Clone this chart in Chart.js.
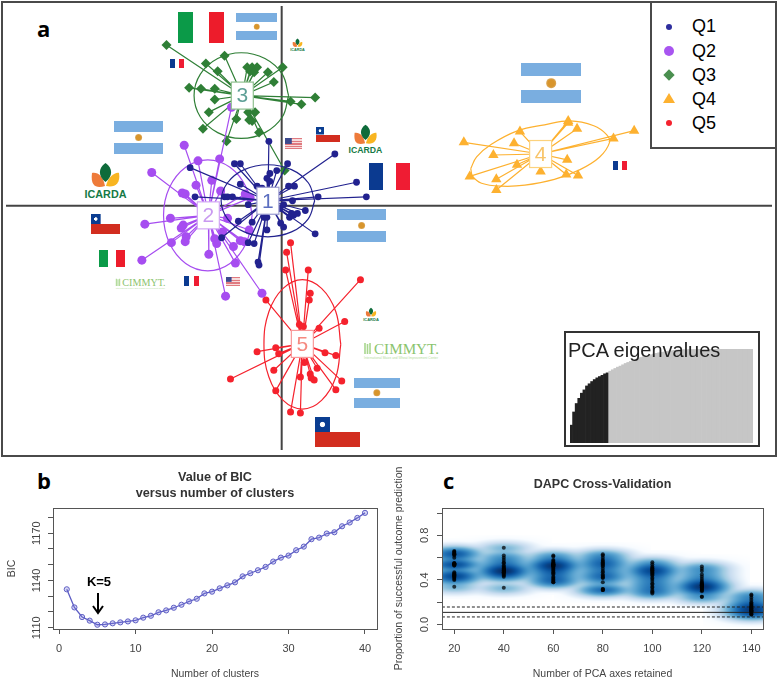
<!DOCTYPE html>
<html>
<head>
<meta charset="utf-8">
<title>DAPC clusters</title>
<script src="https://cdn.jsdelivr.net/npm/chart.js@4"></script>
<style>
    html, body { margin: 0; padding: 0; background: #fff; }
    #page { position: relative; width: 778px; height: 680px; overflow: hidden; font-family: "Liberation Sans", Arial, sans-serif; }
    #page canvas { position: absolute; }
    .abs { position: absolute; }
    .panelLetter { position: absolute; font: bold 22px "Open Sans", sans-serif; color: #000; line-height: 24px; }

    /* panel a frame and legend */
    #frameA { position: absolute; left: 1px; top: 1px; width: 772px; height: 452px; border: 2px solid #4a4a4a; }
    #legendBox { position: absolute; left: 650px; top: 1px; width: 123px; height: 144px; border: 2px solid #4a4a4a; background: #fff; }
    .legText { position: absolute; left: 692px; font-size: 18px; line-height: 22px; color: #000; }
    .mark { position: absolute; }

    /* flags */
    .flag { position: absolute; }
    .ar { background: linear-gradient(#7aaee0 0 33.3%, #fff 33.3% 66.6%, #7aaee0 66.6%); }
    .ar::after { content: ""; position: absolute; left: 50%; top: 50%; width: 16%; aspect-ratio: 1; transform: translate(-50%, -50%); border-radius: 50%; background: radial-gradient(#d8952c 45%, #dcbb8c 100%); }
    .it { background: linear-gradient(90deg, #0b9a48 0 33%, #fff 33% 67%, #ed1c2b 67%); }
    .fr { background: linear-gradient(90deg, #0b3a90 0 33%, #fff 33% 67%, #ef1c33 67%); }
    .cl { background:
        radial-gradient(circle at 16.6% 25%, #fff 0 5%, transparent 7%),
        linear-gradient(#d22d1f, #d22d1f) left bottom / 100% 50% no-repeat,
        linear-gradient(#0a3d91, #0a3d91) left top / 33.3% 50% no-repeat; }
    .us { background:
        linear-gradient(#3c4a8e, #3c4a8e) left top / 40% 54% no-repeat,
        repeating-linear-gradient(#e07a80 0 1.4px, #f7dcdc 1.4px 2.6px); }
    .logo { position: absolute; overflow: visible; }

    #insetBox { position: absolute; left: 564px; top: 331px; width: 192px; height: 112px; border: 2px solid #333; background: #fff; }
    #insetTitle { position: absolute; left: 568px; top: 339px; font-size: 20px; line-height: 22px; color: #222; z-index: 3; white-space: nowrap; }
    #kLabel { position: absolute; left: 70px; top: 574px; width: 58px; text-align: center; font: bold 13px "Liberation Sans", Arial, sans-serif; color: #000; z-index: 3; }
</style>
</head>
<body>
<div id="page">
    <svg width="0" height="0" style="position:absolute">
        <symbol id="icarda" viewBox="0 0 43 36" overflow="visible">
            <path d="M8 11 C14 10 19 14 21 24 C14 26 6 26 8 11Z" fill="#ee7b3a"/>
            <path d="M35 11 C31 10 24 15 22 24 C30 26 37 22 35 11Z" fill="#f8b521"/>
            <path d="M21.5 1 C14 6 14 14 21.5 20 C29 14 29 6 21.5 1Z" fill="#0e6b3a"/>
            <text x="21.5" y="35.5" text-anchor="middle" font-family="Liberation Sans" font-weight="bold" font-size="10.5" textLength="42" lengthAdjust="spacingAndGlyphs" fill="#157a46">ICARDA</text>
        </symbol>
        <symbol id="cimmyt" viewBox="0 0 76 18" overflow="visible">
            <path d="M1 1V12M3.5 2V12M6 1V12" stroke="#a8d68e" stroke-width="1.6" fill="none"/>
            <text x="10" y="12" font-family="Liberation Serif" font-size="14" textLength="65" lengthAdjust="spacingAndGlyphs" fill="#8bc46e">CIMMYT.</text>
            <text x="0" y="16.6" font-family="Liberation Sans" font-size="2.7" textLength="74" lengthAdjust="spacingAndGlyphs" fill="#b4dca0">International Maize and Wheat Improvement Center</text>
        </symbol>
    </svg>

    <div id="frameA"></div>
    <div class="panelLetter" style="left:37px;top:16px">a</div>
    <div class="panelLetter" style="left:37px;top:468px">b</div>
    <div class="panelLetter" style="left:443px;top:468px">c</div>

    <!-- flags and logos round the clusters -->
    <div class="flag it" style="left:178px;top:12px;width:46px;height:31px"></div>
    <div class="flag ar" style="left:236px;top:13px;width:41px;height:27px"></div>
    <div class="flag fr" style="left:170px;top:59px;width:14px;height:9px"></div>
    <svg class="logo" style="left:290px;top:38px" width="15" height="13"><use href="#icarda"/></svg>
    <div class="flag ar" style="left:114px;top:121px;width:49px;height:33px"></div>
    <svg class="logo" style="left:84px;top:162px" width="43" height="36"><use href="#icarda"/></svg>
    <div class="flag us" style="left:285px;top:138px;width:17px;height:11px"></div>
    <div class="flag cl" style="left:316px;top:127px;width:24px;height:15px"></div>
    <svg class="logo" style="left:348px;top:124px" width="35" height="29"><use href="#icarda"/></svg>
    <div class="flag fr" style="left:369px;top:163px;width:41px;height:27px"></div>
    <div class="flag ar" style="left:337px;top:209px;width:49px;height:33px"></div>
    <div class="flag cl" style="left:91px;top:214px;width:29px;height:20px"></div>
    <div class="flag it" style="left:99px;top:250px;width:26px;height:17px"></div>
    <svg class="logo" style="left:115px;top:278px" width="52" height="12"><use href="#cimmyt"/></svg>
    <div class="flag fr" style="left:184px;top:276px;width:15px;height:10px"></div>
    <div class="flag us" style="left:226px;top:277px;width:14px;height:9px"></div>
    <svg class="logo" style="left:363px;top:307px" width="16" height="14"><use href="#icarda"/></svg>
    <svg class="logo" style="left:364px;top:342px" width="76" height="18"><use href="#cimmyt"/></svg>
    <div class="flag ar" style="left:354px;top:378px;width:46px;height:30px"></div>
    <div class="flag cl" style="left:315px;top:417px;width:45px;height:30px"></div>
    <div class="flag ar" style="left:521px;top:63px;width:60px;height:40px"></div>
    <div class="flag fr" style="left:613px;top:161px;width:14px;height:9px"></div>

    <canvas id="scatterChart" width="778" height="458" style="left:0;top:0"></canvas>

    <!-- legend of panel a -->
    <div id="legendBox"></div>
    <div class="mark" style="left:666px;top:24px;width:6px;height:6px;border-radius:50%;background:#2e2e9e"></div>
    <div class="mark" style="left:664px;top:46px;width:10px;height:10px;border-radius:50%;background:#a855f0"></div>
    <div class="mark" style="left:664px;top:70px;width:10px;height:10px;transform:rotate(45deg) scale(.8);background:#4a8f4f"></div>
    <div class="mark" style="left:663px;top:93px;width:12px;height:10px;clip-path:polygon(50% 0,100% 100%,0 100%);background:#fdb130"></div>
    <div class="mark" style="left:666px;top:120px;width:6px;height:6px;border-radius:50%;background:#f4222e"></div>
    <div class="legText" style="top:15px">Q1</div>
    <div class="legText" style="top:40px">Q2</div>
    <div class="legText" style="top:64px">Q3</div>
    <div class="legText" style="top:88px">Q4</div>
    <div class="legText" style="top:112px">Q5</div>

    <!-- inset -->
    <div id="insetBox"></div>
    <canvas id="eigenChart" width="183" height="94" style="left:570px;top:349px;z-index:2"></canvas>
    <div id="insetTitle">PCA eigenvalues</div>

    <canvas id="bicChart" width="390" height="215" style="left:0;top:465px"></canvas>
    <canvas id="dapcChart" width="388" height="215" style="left:390px;top:465px"></canvas>

    <div id="kLabel">K=5</div>
    <svg class="abs" style="left:88px;top:590px;z-index:3" width="20" height="26">
        <path d="M10 3V22M5 16L10 23L15 16" stroke="#000" stroke-width="2" fill="none"/>
    </svg>
</div>

<script>
    // Values. Panel a uses picture units, axes cross at 280 / 205
    const axisCrossX = 280;
    const axisCrossY = 205;

    const q1Center = [266, 200];
    const q1X = [267, 232, 238, 286, 334, 356, 366, 317, 304, 314, 256, 257, 252, 246, 265, 279, 282, 288, 292, 296, 290, 291, 287, 293, 275, 268, 265, 268, 238, 222, 225, 187, 192, 230, 236, 219, 246, 250, 282, 278, 255, 260, 262, 265];
    const q1Y = [139, 162, 162, 162, 152, 181, 196, 196, 210, 234, 263, 266, 244, 243, 230, 223, 227, 217, 215, 213, 213, 200, 185, 185, 169, 172, 177, 180, 183, 196, 196, 166, 196, 196, 221, 238, 204, 222, 204, 208, 185, 187, 217, 217];
    const q1EllipseX = [313.5, 307, 290, 266, 242, 225, 218.5, 225, 242, 266, 290, 307];
    const q1EllipseY = [200, 181.5, 168, 163, 168, 181.5, 200, 218.5, 232, 237, 232, 218.5];

    const q2Center = [205.5, 215];
    const q2X = [181, 217, 229, 195, 148, 209, 193, 179, 182, 218, 141, 167, 180, 178, 183, 182, 168, 138, 206, 212, 214, 220, 231, 233, 223, 260, 238, 242, 247, 225, 243, 248];
    const q2Y = [143, 157, 104, 159, 171, 179, 184, 192, 193, 190, 224, 218, 225, 228, 237, 242, 243, 261, 255, 239, 244, 232, 247, 264, 298, 295, 241, 242, 230, 218, 193, 197];
    const q2EllipseX = [250, 244, 227.5, 205, 182.5, 166, 160, 166, 182.5, 205, 227.5, 244];
    const q2EllipseY = [215, 186.5, 165.6, 158, 165.6, 186.5, 215, 243.5, 264.4, 272, 264.4, 243.5];

    const q3Center = [240, 92];
    const q3X = [163, 222, 203, 215, 245, 250, 255, 248, 252, 281, 266, 272, 186, 198, 212, 212, 314, 289, 300, 206, 200, 224, 234, 246, 253, 247, 250, 257, 283];
    const q3Y = [40, 51, 59, 67, 63, 63, 63, 67, 68, 63, 68, 78, 84, 85, 85, 96, 94, 98, 101, 109, 126, 139, 116, 109, 109, 117, 118, 130, 169];
    const q3EllipseX = [287, 280.6, 263, 239, 215, 197.4, 191, 197.4, 215, 239, 263, 280.6];
    const q3EllipseY = [92, 70, 54, 48, 54, 70, 92, 114, 130, 136, 130, 114];

    const q4Center = [543, 152];
    const q4X = [465, 522, 516, 495, 571, 571, 580, 617, 638, 570, 543, 569, 581, 519, 498, 471, 498];
    const q4Y = [140, 129, 141, 153, 118, 120, 126, 136, 128, 158, 170, 173, 174, 163, 178, 175, 189];
    const q4EllipseX = [472, 478, 493, 520, 547, 573, 597, 610, 613, 603, 583, 557, 527, 503, 483, 474];
    const q4EllipseY = [167, 155, 142, 128, 122, 118, 123, 132, 140, 155, 168, 178, 184, 185, 182, 175];

    const q5Center = [301, 347];
    const q5X = [289, 285, 284, 307, 360, 309, 308, 264, 344, 318, 298, 302, 274, 277, 255, 324, 335, 272, 228, 316, 309, 310, 313, 299, 341, 335, 274, 289, 299, 303];
    const q5Y = [243, 253, 271, 271, 281, 295, 302, 302, 324, 331, 327, 329, 351, 357, 355, 356, 359, 374, 383, 372, 378, 382, 384, 381, 385, 394, 395, 417, 418, 366];
    const q5EllipseX = [340, 335, 320.5, 301, 281.5, 267, 262, 267, 281.5, 301, 320.5, 335];
    const q5EllipseY = [347.5, 314, 290, 281, 290, 314, 347.5, 381, 405, 414, 405, 381];

    const clusterNames = ['1', '2', '3', '4', '5'];

    // Inset, cumulated eigenvalues in percent
    const eigenRetained = [19, 33, 42, 47.5, 53, 56.5, 60.7, 63, 65.4, 67.5, 69.3, 70.7, 72, 73.6, 74.6];
    const eigenDropped = [76.4, 77.9, 79.3, 80.7, 81.8, 83.2, 84.6, 85.7, 86.8, 87.9, 88.9, 90, 91, 91.8, 92.5, 93.2, 93.9, 94.6, 95.4, 96, 96.4, 96.8, 97.5, 97.9, 98.2, 98.6, 98.9, 99.1, 99.3, 99.4, 99.4, 99.5, 99.5, 99.5, 99.6, 99.6, 99.6, 99.7, 99.7, 99.7, 99.8, 99.8, 99.8, 99.8, 99.9, 99.9, 99.9, 99.9, 99.9, 100, 100, 100, 100, 100, 100, 100];

    // Panel b
    const bicClusters = [1, 2, 3, 4, 5, 6, 7, 8, 9, 10, 11, 12, 13, 14, 15, 16, 17, 18, 19, 20, 21, 22, 23, 24, 25, 26, 27, 28, 29, 30, 31, 32, 33, 34, 35, 36, 37, 38, 39, 40];
    const bicValues = [1134.4, 1122.9, 1116.8, 1114.5, 1111.9, 1112.1, 1112.8, 1113.4, 1114, 1114.7, 1116.4, 1117.6, 1119.8, 1121, 1122.7, 1124.6, 1126.7, 1128.4, 1131.8, 1132.9, 1135, 1136.9, 1138.8, 1142.6, 1144.6, 1146.5, 1148.6, 1152, 1154.5, 1155.8, 1159.2, 1161.5, 1166.2, 1167.2, 1169.8, 1170.6, 1174.4, 1176.8, 1179.7, 1182.9];
    const bicXTicks = [0, 10, 20, 30, 40];
    const bicYTicks = [1110, 1120, 1130, 1140, 1150, 1160, 1170, 1180];
    const bicYLabels = [1110, 1140, 1170];

    // Panel c, one list of replicates per number of retained axes
    const pcaAxes = [20, 40, 60, 80, 100, 120, 140];
    const success20 = [.66, .65, .65, .64, .63, .63, .62, .60, .55, .55, .55, .54, .54, .54, .53, .53, .47, .46, .45, .45, .44, .44, .43, .43, .42, .41, .40, .34];
    const success40 = [.69, .62, .60, .58, .56, .55, .53, .52, .51, .50, .50, .49, .49, .49, .48, .48, .48, .47, .47, .46, .45, .44, .43, .33];
    const success60 = [.62, .61, .58, .57, .56, .55, .54, .54, .54, .53, .53, .53, .52, .52, .51, .50, .49, .48, .47, .46, .45, .43, .42, .41, .40, .39, .38, .38];
    const success80 = [.63, .62, .60, .58, .57, .56, .55, .54, .53, .52, .50, .48, .47, .45, .44, .43, .42, .42, .38, .32, .32, .31, .31, .31];
    const success100 = [.56, .54, .52, .51, .50, .50, .49, .49, .48, .48, .47, .46, .45, .44, .42, .41, .39, .37, .36, .34, .33, .31, .30, .29, .28];
    const success120 = [.52, .50, .48, .45, .43, .41, .39, .38, .37, .36, .36, .35, .35, .35, .34, .34, .33, .33, .32, .31, .31, .30, .25, .25];
    const success140 = [.27, .26, .24, .22, .20, .19, .18, .17, .16, .16, .15, .15, .14, .14, .13, .13, .12, .12, .11, .10, .09, .09];
    const randomMean = 0.11;
    const randomLow = 0.069;
    const randomHigh = 0.158;
    const dapcYTicks = [0, 0.2, 0.4, 0.6, 0.8, 1];
    const dapcYLabels = [0, 0.4, 0.8];

    const toPoints = (xs, ys) => xs.map((x, i) => ({ x, y: ys[i] }));

    // center to point, center to point... NaN breaks the line between rays
    const rayPoints = (center, xs, ys) => {
        const out = [];
        xs.forEach((x, i) => {
            out.push({ x: center[0], y: center[1] }, { x, y: ys[i] }, { x: NaN, y: NaN });
        });
        return out;
    };

    const clusterDatasets = (label, color, style, radius, center, xs, ys, ex, ey) => [
        { label: label + ' rays', type: 'line', data: rayPoints(center, xs, ys), borderColor: color, borderWidth: 1.2, pointRadius: 0, spanGaps: false },
        { label: label + ' ellipse', type: 'line', data: toPoints(ex.concat(ex[0]), ey.concat(ey[0])), borderColor: color, borderWidth: 1.2, pointRadius: 0, tension: 0.4 },
        { label, type: 'scatter', data: toPoints(xs, ys), backgroundColor: color, borderColor: color, pointStyle: style, pointRadius: radius, borderWidth: 0 }
    ];

    // Little white boxes with the cluster number
    const clusterBoxes = {
        id: 'clusterBoxes',
        afterDatasetsDraw(chart) {
            const { ctx, scales } = chart;
            const centers = [q1Center, q2Center, q3Center, q4Center, q5Center];
            const edge = ['#9a9ad0', '#d3a8f5', '#8fc08f', '#fcd27d', '#f99a9a'];
            const ink = ['#5c6fc0', '#c99af0', '#5e9f96', '#f8c469', '#f58a80'];
            centers.forEach((c, i) => {
                const px = scales.x.getPixelForValue(c[0]);
                const py = scales.y.getPixelForValue(c[1]);
                ctx.save();
                ctx.fillStyle = '#fff';
                ctx.strokeStyle = edge[i];
                ctx.lineWidth = 1.2;
                ctx.fillRect(px - 11, py - 13.5, 22, 27);
                ctx.strokeRect(px - 11, py - 13.5, 22, 27);
                ctx.fillStyle = ink[i];
                ctx.font = '21px "Liberation Sans"';
                ctx.textAlign = 'center';
                ctx.textBaseline = 'middle';
                ctx.fillText(clusterNames[i], px, py + 1);
                ctx.restore();
            });
        }
    };

    // bottom to top, reversed below because Chart.js paints the first dataset last
    const scatterSets = [
        { label: 'axis x', type: 'line', data: [{ x: 0, y: axisCrossY }, { x: 778, y: axisCrossY }], borderColor: '#444', borderWidth: 2, pointRadius: 0 },
        { label: 'axis y', type: 'line', data: [{ x: axisCrossX, y: 0 }, { x: axisCrossX, y: 456 }], borderColor: '#444', borderWidth: 2, pointRadius: 0 },
        ...clusterDatasets('Q4', '#fdb130', 'triangle', 6, q4Center, q4X, q4Y, q4EllipseX, q4EllipseY),
        ...clusterDatasets('Q5', '#f5222d', 'circle', 3.5, q5Center, q5X, q5Y, q5EllipseX, q5EllipseY),
        ...clusterDatasets('Q3', '#2f7f36', 'rectRot', 5, q3Center, q3X, q3Y, q3EllipseX, q3EllipseY),
        ...clusterDatasets('Q2', '#a64df0', 'circle', 4.5, q2Center, q2X, q2Y, q2EllipseX, q2EllipseY),
        ...clusterDatasets('Q1', '#22228f', 'circle', 3.4, q1Center, q1X, q1Y, q1EllipseX, q1EllipseY)
    ];

    new Chart(document.getElementById('scatterChart'), {
        type: 'scatter',
        data: { datasets: scatterSets.reverse() },
        plugins: [clusterBoxes],
        options: {
            responsive: false,
            animation: false,
            plugins: { legend: { display: false }, tooltip: { enabled: false } },
            scales: {
                x: { type: 'linear', display: false, min: 0, max: 778 },
                y: { type: 'linear', display: false, min: 0, max: 458, reverse: true }
            }
        }
    });

    const eigenValues = eigenRetained.concat(eigenDropped);
    new Chart(document.getElementById('eigenChart'), {
        type: 'bar',
        data: {
            labels: eigenValues.map((v, i) => i + 1),
            datasets: [{
                data: eigenValues,
                backgroundColor: eigenValues.map((v, i) => i < eigenRetained.length ? '#222' : '#c6c6c6'),
                barPercentage: 1,
                categoryPercentage: 1
            }]
        },
        options: {
            responsive: false,
            animation: false,
            plugins: { legend: { display: false }, tooltip: { enabled: false } },
            scales: {
                x: { display: false },
                y: { display: false, min: 0, max: 100 }
            }
        }
    });

    // R style box and rotated y labels
    const rBox = (labels, format, labelX) => ({
        id: 'rBox',
        afterDatasetsDraw(chart) {
            const { ctx, chartArea, scales } = chart;
            ctx.save();
            ctx.strokeStyle = '#555';
            ctx.lineWidth = 1;
            ctx.strokeRect(Math.round(chartArea.left) + 0.5, Math.round(chartArea.top) + 0.5, Math.round(chartArea.width), Math.round(chartArea.height));
            ctx.fillStyle = '#444';
            ctx.font = '11px "Liberation Sans"';
            ctx.textAlign = 'center';
            ctx.textBaseline = 'middle';
            labels.forEach(v => {
                ctx.save();
                ctx.translate(labelX, scales.y.getPixelForValue(v));
                ctx.rotate(-Math.PI / 2);
                ctx.fillText(format(v), 0, 0);
                ctx.restore();
            });
            ctx.restore();
        }
    });

    const rScales = (xMin, xMax, xTicks, yMin, yMax, yTicks, xTitle, yTitle, yWidth, yTitlePad) => ({
        x: {
            type: 'linear',
            min: xMin,
            max: xMax,
            afterBuildTicks: scale => { scale.ticks = xTicks.map(value => ({ value })); },
            afterFit: scale => { scale.height = 51; },
            grid: { drawOnChartArea: false, drawTicks: true, tickLength: 5, color: '#555' },
            border: { display: false },
            ticks: { color: '#444', font: { size: 11, family: 'Liberation Sans' }, padding: 8, maxRotation: 0, autoSkip: false },
            title: { display: true, text: xTitle, color: '#444', font: { size: 10.5, family: 'Liberation Sans' }, padding: { top: 0, bottom: 0 } }
        },
        y: {
            type: 'linear',
            min: yMin,
            max: yMax,
            afterBuildTicks: scale => { scale.ticks = yTicks.map(value => ({ value })); },
            afterFit: scale => { scale.width = yWidth; },
            grid: { drawOnChartArea: false, drawTicks: true, tickLength: 5, color: '#555' },
            border: { display: false },
            ticks: { callback: () => '', autoSkip: false },
            title: { display: true, text: yTitle, color: '#444', font: { size: 10.5, family: 'Liberation Sans' }, padding: { top: yTitlePad, bottom: 0 } }
        }
    });

    new Chart(document.getElementById('bicChart'), {
        type: 'line',
        data: {
            datasets: [{
                data: toPoints(bicClusters, bicValues),
                borderColor: '#5c5cc4',
                borderWidth: 1.3,
                tension: 0,
                pointRadius: 2.6,
                pointBorderWidth: 1,
                pointBorderColor: '#6060c4',
                pointBackgroundColor: 'rgba(120, 120, 220, 0.3)'
            }]
        },
        plugins: [rBox(bicYLabels, v => String(v), 37)],
        options: {
            responsive: false,
            animation: false,
            layout: { padding: { right: 13, top: 0, bottom: 0, left: 0 } },
            plugins: {
                legend: { display: false },
                tooltip: { enabled: false },
                title: {
                    display: true,
                    fullSize: false,
                    text: ['Value of BIC', 'versus number of clusters'],
                    color: '#333',
                    font: { size: 12.7, weight: 'bold', family: 'Liberation Sans', lineHeight: 1.25 },
                    padding: { top: 5, bottom: 6.25 }
                }
            },
            scales: rScales(-0.8, 41.57, bicXTicks, 1109.2, 1186, bicYTicks, 'Number of clusters', 'BIC', 53, 6)
        }
    });

    // smoothScatter like density: gaussian kernels on the pixels of the plot area, blues ramp
    const blues = [[255, 255, 255], [247, 251, 255], [222, 235, 247], [198, 219, 239], [158, 202, 225], [107, 174, 214], [66, 146, 198], [33, 113, 181], [8, 81, 156], [8, 48, 107]];
    const densityPlugin = {
        id: 'density',
        beforeDatasetsDraw(chart) {
            const { ctx, chartArea, scales } = chart;
            const left = Math.round(chartArea.left);
            const top = Math.round(chartArea.top);
            const w = Math.round(chartArea.width);
            const h = Math.round(chartArea.height);
            const sx = 12;
            const sy = 3;
            const field = new Float32Array(w * h);
            const pts = chart.data.datasets[0].data;
            pts.forEach(p => {
                const px = scales.x.getPixelForValue(p.x) - left;
                const py = scales.y.getPixelForValue(p.y) - top;
                for (let yy = Math.max(0, Math.floor(py - 4 * sy)); yy < Math.min(h, py + 4 * sy); yy++) {
                    for (let xx = Math.max(0, Math.floor(px - 4 * sx)); xx < Math.min(w, px + 4 * sx); xx++) {
                        const dx = (xx - px) / sx;
                        const dy = (yy - py) / sy;
                        field[yy * w + xx] += Math.exp(-0.5 * (dx * dx + dy * dy));
                    }
                }
            });
            const peak = field.reduce((a, b) => Math.max(a, b), 0);
            const img = ctx.createImageData(w, h);
            for (let i = 0; i < field.length; i++) {
                const t = Math.pow(field[i] / peak, 0.27) * (blues.length - 1);
                const k = Math.min(blues.length - 2, Math.floor(t));
                const f = t - k;
                img.data[i * 4] = blues[k][0] + (blues[k + 1][0] - blues[k][0]) * f;
                img.data[i * 4 + 1] = blues[k][1] + (blues[k + 1][1] - blues[k][1]) * f;
                img.data[i * 4 + 2] = blues[k][2] + (blues[k + 1][2] - blues[k][2]) * f;
                img.data[i * 4 + 3] = 255;
            }
            ctx.putImageData(img, left, top);
        }
    };

    const successLists = [success20, success40, success60, success80, success100, success120, success140];
    const successPoints = successLists.flatMap((list, i) => list.map(y => ({ x: pcaAxes[i], y })));
    const refLine = (y, dash) => ({
        type: 'line',
        data: [{ x: 15, y }, { x: 145, y }],
        borderColor: '#222',
        borderWidth: 1,
        borderDash: dash,
        pointRadius: 0
    });

    new Chart(document.getElementById('dapcChart'), {
        type: 'scatter',
        data: {
            datasets: [
                { data: successPoints, backgroundColor: 'rgba(0, 0, 0, 0.72)', pointRadius: 2, borderWidth: 0 },
                refLine(randomMean, []),
                refLine(randomLow, [3, 2]),
                refLine(randomHigh, [3, 2])
            ]
        },
        plugins: [densityPlugin, rBox(dapcYLabels, v => v.toFixed(1), 35)],
        options: {
            responsive: false,
            animation: false,
            layout: { padding: { right: 15, top: 0, bottom: 0, left: 0 } },
            plugins: {
                legend: { display: false },
                tooltip: { enabled: false },
                title: {
                    display: true,
                    fullSize: false,
                    text: 'DAPC Cross-Validation',
                    color: '#333',
                    font: { size: 12.5, weight: 'bold', family: 'Liberation Sans' },
                    padding: { top: 12, bottom: 16 }
                }
            },
            scales: rScales(15.04, 144.7, pcaAxes, -0.039, 1.045, dapcYTicks, 'Number of PCA axes retained', 'Proportion of successful outcome prediction', 52, 3)
        }
    });
</script>
</body>
</html>
